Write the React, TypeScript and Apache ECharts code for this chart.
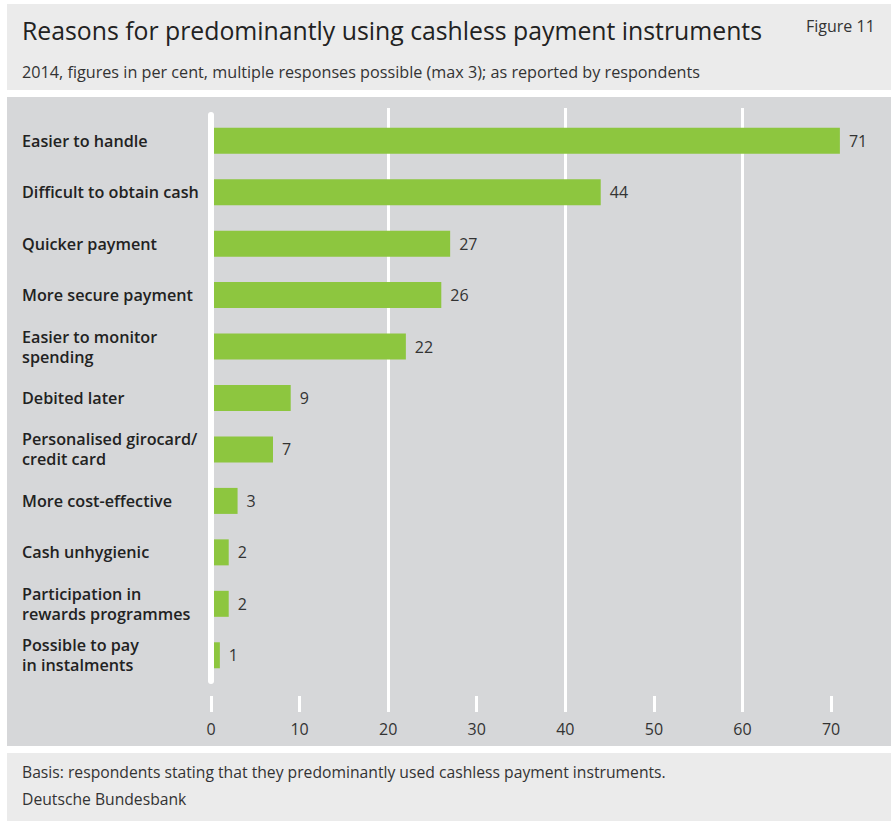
import React, { useEffect, useRef } from "react";
import * as echarts from "echarts";

const titleText = "Reasons for predominantly using cashless payment instruments";
const figureText = "Figure 11";
const subtitleText = "2014, figures in per cent, multiple responses possible (max 3); as reported by respondents";
const footnoteText = "Basis: respondents stating that they predominantly used cashless payment instruments.";
const sourceText = "Deutsche Bundesbank";

const categories = [
  "Easier to handle",
  "Difficult to obtain cash",
  "Quicker payment",
  "More secure payment",
  "Easier to monitor\nspending",
  "Debited later",
  "Personalised girocard/\ncredit card",
  "More cost-effective",
  "Cash unhygienic",
  "Participation in\nrewards programmes",
  "Possible to pay\nin instalments",
];
const values = [71, 44, 27, 26, 22, 9, 7, 3, 2, 2, 1];

const axisMin = 0;
const axisMax = 80;
const lastTickLabel = 70;
const tickInterval = 10;
const gridInterval = 20;

const FONT = "'Open Sans', 'Noto Sans', sans-serif";

export default function App() {
  const ref = useRef<HTMLDivElement>(null);
  useEffect(() => {
    if (!ref.current) return;
    const chart = echarts.init(ref.current, undefined, { renderer: "svg" });
    const plotLeft = 211;
    const plotWidth = 708.6;
    chart.setOption({
      animation: false,
      backgroundColor: "#ffffff",
      graphic: [
        { type: "rect", z: -10, shape: { x: 7, y: 4, width: 884, height: 86 }, style: { fill: "#ebebeb" } },
        { type: "rect", z: -10, shape: { x: 7, y: 97, width: 884, height: 649 }, style: { fill: "#d6d7d9" } },
        { type: "rect", z: -10, shape: { x: 7, y: 753, width: 884, height: 68 }, style: { fill: "#ebebeb" } },
        {
          type: "text", z: 10, x: 22, y: 30,
          style: { text: titleText, fontSize: 24.8, fontFamily: FONT, fill: "#222", textVerticalAlign: "middle", verticalAlign: "middle" },
        },
        {
          type: "text", z: 10, x: 806, y: 26,
          style: { text: figureText, fontSize: 16, fontFamily: FONT, fill: "#333", textVerticalAlign: "middle", verticalAlign: "middle" },
        },
        {
          type: "text", z: 10, x: 22, y: 72,
          style: { text: subtitleText, fontSize: 16.2, fontFamily: FONT, fill: "#333", textVerticalAlign: "middle", verticalAlign: "middle" },
        },
        {
          type: "text", z: 10, x: 22, y: 772,
          style: { text: footnoteText, fontSize: 15.7, fontFamily: FONT, fill: "#333", textVerticalAlign: "middle", verticalAlign: "middle" },
        },
        {
          type: "text", z: 10, x: 22, y: 799,
          style: { text: sourceText, fontSize: 15.7, fontFamily: FONT, fill: "#333", textVerticalAlign: "middle", verticalAlign: "middle" },
        },
      ],
      grid: [
        { left: plotLeft, width: plotWidth, top: 108, height: 604, containLabel: false, outerBoundsMode: "none" },
        { left: plotLeft, width: plotWidth, top: 115, height: 566, containLabel: false, outerBoundsMode: "none" },
      ],
      xAxis: [
        {
          type: "value", gridIndex: 0, min: axisMin, max: axisMax, interval: gridInterval, position: "bottom",
          axisLine: { show: false }, axisTick: { show: false }, axisLabel: { show: false },
          splitLine: { show: true, showMinLine: false, showMaxLine: false, lineStyle: { color: "#ffffff", width: 3 } },
        },
        {
          type: "value", gridIndex: 0, min: axisMin, max: axisMax, interval: tickInterval, position: "bottom",
          axisLine: { show: false, onZero: false },
          axisTick: { show: true, inside: true, length: 16, lineStyle: { color: "#ffffff", width: 3 } },
          axisLabel: {
            show: true, margin: 9, fontSize: 16, fontFamily: FONT, color: "#333",
            formatter: (v: number) => (v <= lastTickLabel ? String(v) : ""),
          },
          splitLine: { show: false },
        },
        { type: "value", gridIndex: 1, min: axisMin, max: axisMax, show: false, splitLine: { show: false } },
      ],
      yAxis: [
        { type: "value", gridIndex: 0, min: 0, max: 1, show: false, splitLine: { show: false } },
        {
          type: "category", gridIndex: 1, data: categories, inverse: true, z: 5,
          axisLine: { show: true, lineStyle: { color: "#ffffff", width: 6 } },
          axisTick: { show: false },
          splitLine: { show: false },
          axisLabel: {
            interval: 0, align: "left", margin: 189, fontSize: 16.2, fontWeight: 600,
            fontFamily: FONT, color: "#222", lineHeight: 20,
          },
        },
      ],
      series: [
        {
          type: "bar", xAxisIndex: 2, yAxisIndex: 1, data: values, barWidth: 26,
          itemStyle: { color: "#8dc63f" },
          label: { show: true, position: "right", distance: 9, fontSize: 16, fontFamily: FONT, color: "#333" },
        },
      ],
    });
    return () => chart.dispose();
  }, []);
  return <div ref={ref} style={{ position: "absolute", left: 0, top: 0, width: 891, height: 827 }} />;
}
